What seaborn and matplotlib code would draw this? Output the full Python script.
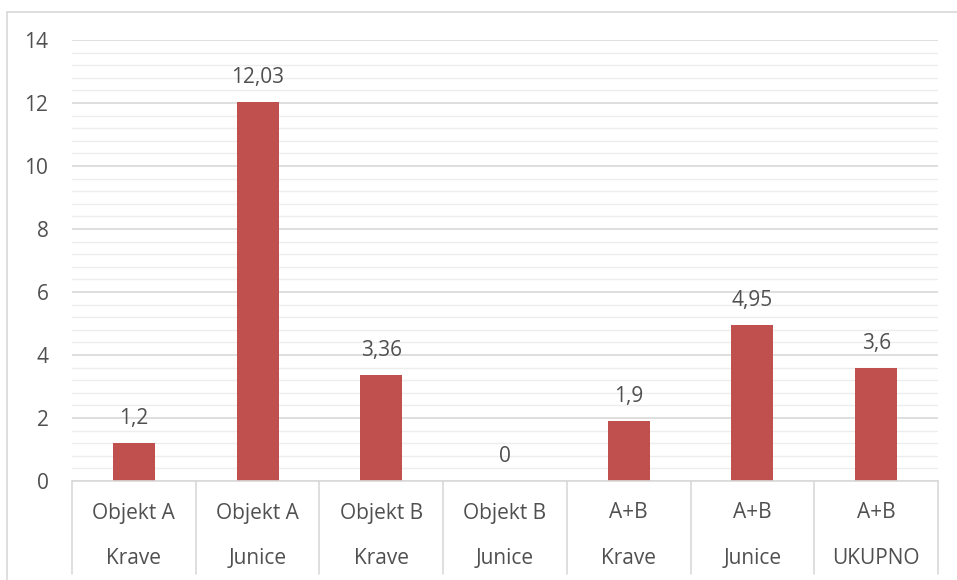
import matplotlib
matplotlib.use("Agg")
import matplotlib.pyplot as plt
import matplotlib.transforms as mtransforms
from matplotlib.lines import Line2D
from matplotlib.ticker import MultipleLocator
import seaborn as sns
import pandas as pd

# Data
groups = ["Objekt A", "Objekt A", "Objekt B", "Objekt B", "A+B", "A+B", "A+B"]
subgroups = ["Krave", "Junice", "Krave", "Junice", "Krave", "Junice", "UKUPNO"]
values = [1.2, 12.03, 3.36, 0, 1.9, 4.95, 3.6]
y_ticks = [0, 2, 4, 6, 8, 10, 12, 14]

sns.set_theme(style="white")
plt.rcParams["font.family"] = ["Open Sans", "DejaVu Sans"]

TEXT = "#505050"
BAR = "#C0504D"
GRID_MAJOR = "#D9D9D9"
GRID_MINOR = "#EDEDED"
FS = 15

df = pd.DataFrame({
    "key": [f"{g}|{s}" for g, s in zip(groups, subgroups)],
    "value": values,
})

W, H = 957, 580
fig = plt.figure(figsize=(W / 100, H / 100), dpi=100)
fig.patch.set_facecolor("white")

left, right, top, bottom = 72, 938, 40, 481
ax = fig.add_axes([left / W, 1 - bottom / H, (right - left) / W, (bottom - top) / H])

sns.barplot(data=df, x="key", y="value", color=BAR, width=0.34,
            saturation=1, ax=ax, edgecolor="none")

ax.set_ylim(0, 14)
ax.set_xlim(-0.5, len(values) - 0.5)
ax.yaxis.set_major_locator(MultipleLocator(2))
ax.yaxis.set_minor_locator(MultipleLocator(0.4))
ax.set_yticks(y_ticks)
ax.set_yticklabels([str(t) for t in y_ticks])
ax.grid(axis="y", which="major", color=GRID_MAJOR, lw=1.2)
ax.grid(axis="y", which="minor", color=GRID_MINOR, lw=1.0)
ax.set_axisbelow(True)
ax.tick_params(axis="y", which="both", length=0, pad=17, labelsize=FS, labelcolor=TEXT)
ax.tick_params(axis="x", length=0, labelbottom=False)
ax.set_xlabel("")
ax.set_ylabel("")
for side in ["top", "right", "left"]:
    ax.spines[side].set_visible(False)
ax.spines["bottom"].set_color(GRID_MAJOR)
ax.spines["bottom"].set_linewidth(1.2)

# Value labels with decimal comma
labels = [("%g" % v).replace(".", ",") for v in values]
ax.bar_label(ax.containers[0], labels=labels, padding=10, fontsize=FS, color=TEXT)

# Two-level category axis
trans = mtransforms.blended_transform_factory(ax.transData, ax.transAxes)
axis_h = bottom - top
depth = (H - 6 - bottom) / axis_h
for i in range(len(values) + 1):
    ax.add_line(Line2D([i - 0.5, i - 0.5], [0, -depth], transform=trans,
                       color=GRID_MAJOR, lw=1.2, clip_on=False))
for i, (g, s) in enumerate(zip(groups, subgroups)):
    ax.annotate(g, xy=(i, 0), xycoords=trans, xytext=(0, -32),
                textcoords="offset pixels", ha="center", va="center",
                fontsize=FS, color=TEXT)
    ax.annotate(s, xy=(i, 0), xycoords=trans, xytext=(0, -77),
                textcoords="offset pixels", ha="center", va="center",
                fontsize=FS, color=TEXT)

# Chart frame
fig.add_artist(Line2D([7.5 / W, 7.5 / W], [0, 1 - 11.5 / H], color=GRID_MAJOR, lw=1.2))
fig.add_artist(Line2D([7.5 / W, 1], [1 - 11.5 / H, 1 - 11.5 / H], color=GRID_MAJOR, lw=1.2))

fig.savefig("out.png", dpi=100)
